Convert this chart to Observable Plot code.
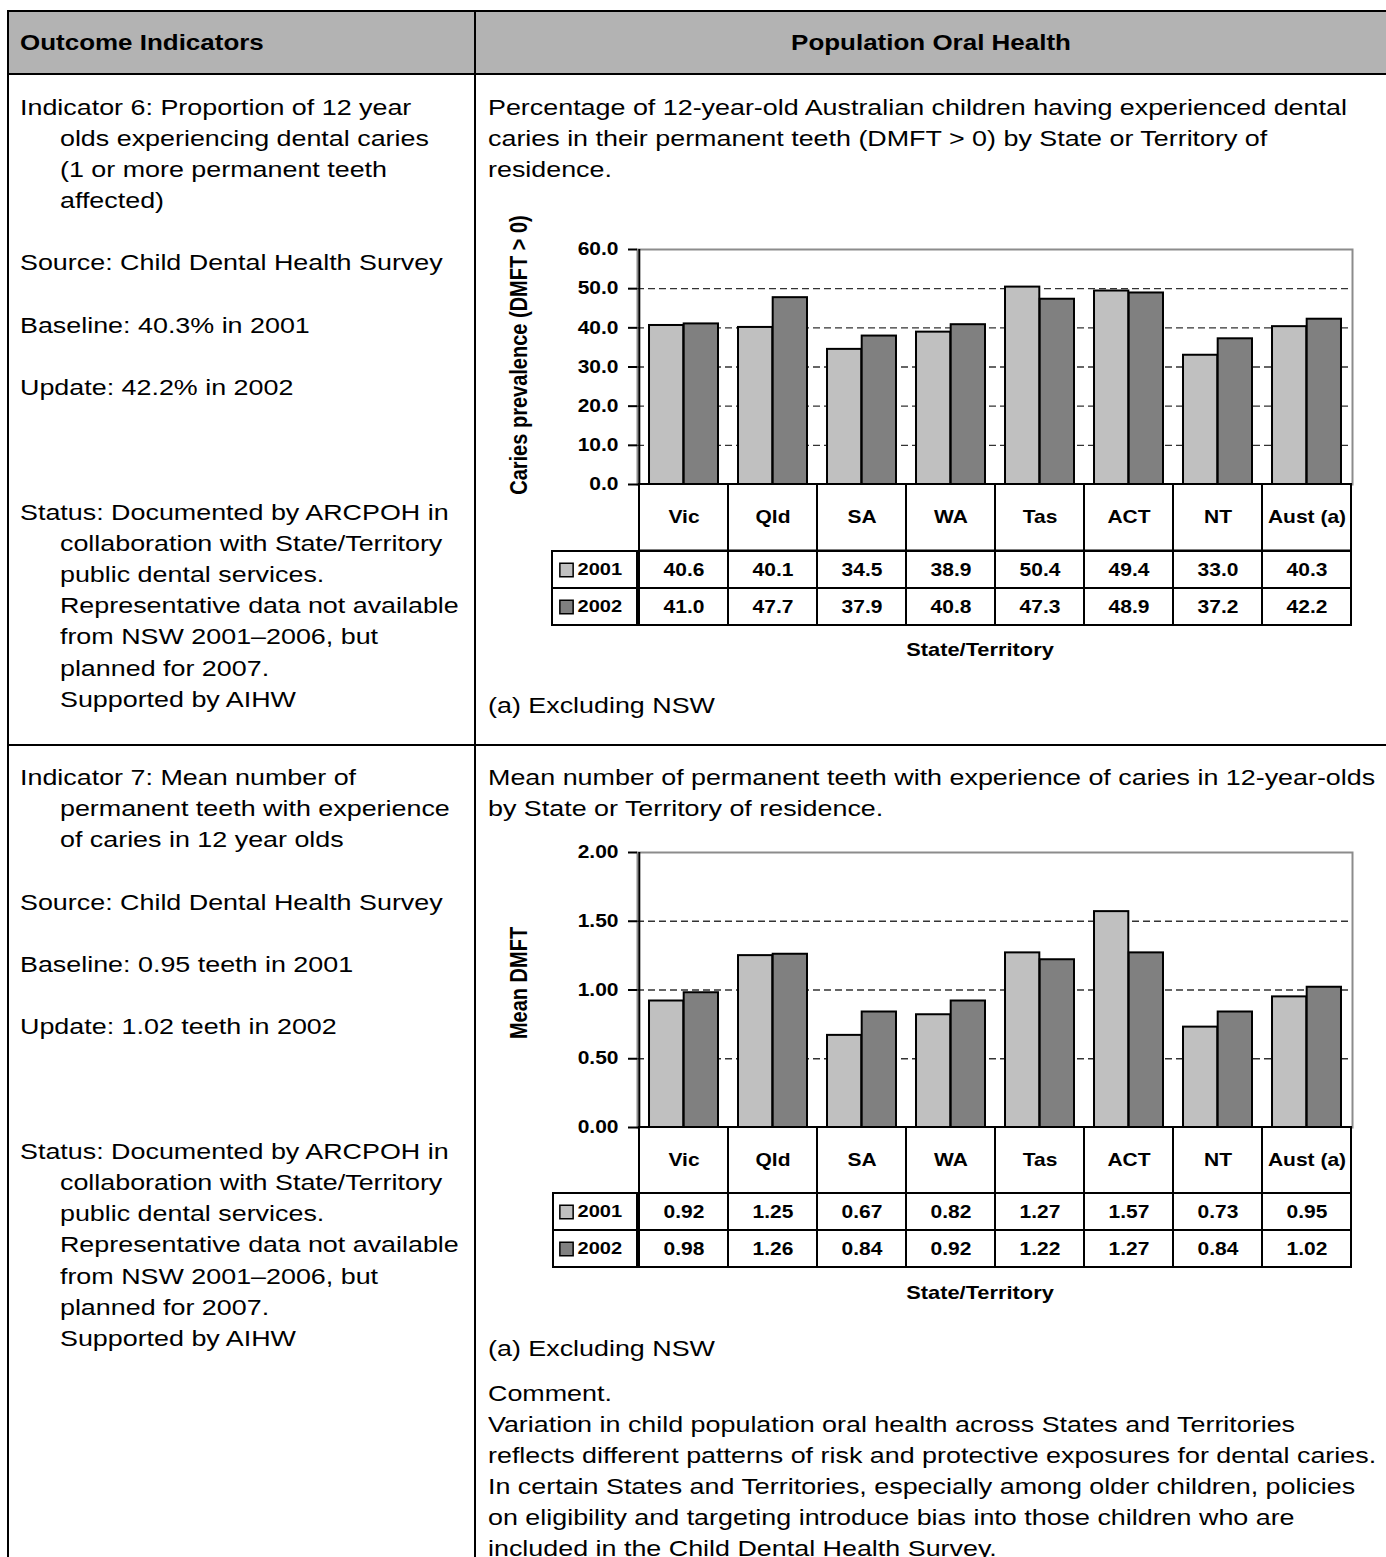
<!DOCTYPE html>
<html><head><meta charset="utf-8">
<script src="https://cdn.jsdelivr.net/npm/d3@7"></script>
<script src="https://cdn.jsdelivr.net/npm/@observablehq/plot@0.6"></script>
<style>
body{margin:0;background:#fff;}
#page{position:relative;width:1386px;height:1557px;overflow:hidden;font-family:"Liberation Sans",Arial,Helvetica,sans-serif;color:#000;background:#fff;}
.ln{position:absolute;background:#000;}
.tx{position:absolute;font-size:22.4px;line-height:31.15px;white-space:pre;transform:scaleX(1.2);transform-origin:0 0;}
.tx .in{padding-left:33.3px;}
.hd{position:absolute;font-size:22px;font-weight:bold;line-height:31.15px;white-space:pre;transform:scaleX(1.18);}
.plot{position:absolute;width:908px;}
.lab{position:absolute;font-weight:bold;white-space:pre;line-height:1;}
</style></head><body><div id="page"></div>
<script>
// ---------- data ----------
const states = ["Vic","Qld","SA","WA","Tas","ACT","NT","Aust (a)"];
const years = ["2001","2002"];
const prev2001 = [40.6,40.1,34.5,38.9,50.4,49.4,33.0,40.3];
const prev2002 = [41.0,47.7,37.9,40.8,47.3,48.9,37.2,42.2];
const dmft2001 = [0.92,1.25,0.67,0.82,1.27,1.57,0.73,0.95];
const dmft2002 = [0.98,1.26,0.84,0.92,1.22,1.27,0.84,1.02];
const prevTicks = [0,10,20,30,40,50,60];
const dmftTicks = [0,0.5,1,1.5,2];
const yearColors = ["#c0c0c0","#808080"];

const leftText1 = [
 ["Indicator 6: Proportion of 12 year",0],["olds experiencing dental caries",1],["(1 or more permanent teeth",1],["affected)",1],
 ["",0],["Source: Child Dental Health Survey",0],["",0],["Baseline: 40.3% in 2001",0],["",0],["Update: 42.2% in 2002",0],
 ["",0],["",0],["",0],["Status: Documented by ARCPOH in",0],["collaboration with State/Territory",1],["public dental services.",1],
 ["Representative data not available",1],["from NSW 2001\u20132006, but",1],["planned for 2007.",1],["Supported by AIHW",1]];
const leftText2 = [
 ["Indicator 7: Mean number of",0],["permanent teeth with experience",1],["of caries in 12 year olds",1],
 ["",0],["Source: Child Dental Health Survey",0],["",0],["Baseline: 0.95 teeth in 2001",0],["",0],["Update: 1.02 teeth in 2002",0],
 ["",0],["",0],["",0],["Status: Documented by ARCPOH in",0],["collaboration with State/Territory",1],["public dental services.",1],
 ["Representative data not available",1],["from NSW 2001\u20132006, but",1],["planned for 2007.",1],["Supported by AIHW",1]];
const rightText1 = ["Percentage of 12-year-old Australian children having experienced dental",
 "caries in their permanent teeth (DMFT > 0) by State or Territory of","residence."];
const rightText2 = ["Mean number of permanent teeth with experience of caries in 12-year-olds",
 "by State or Territory of residence."];
const commentText = ["Comment.","Variation in child population oral health across States and Territories",
 "reflects different patterns of risk and protective exposures for dental caries.",
 "In certain States and Territories, especially among older children, policies",
 "on eligibility and targeting introduce bias into those children who are",
 "included in the Child Dental Health Survey."];

// ---------- page frame ----------
const page = document.getElementById("page");
function box(cls, css, html){const d=document.createElement("div");d.className=cls;Object.assign(d.style,css);if(html!=null)d.innerHTML=html;page.appendChild(d);return d;}
box("", {position:"absolute",left:"9px",top:"12px",width:"1377px",height:"61px",background:"#b3b3b3"});
box("ln",{left:"7px",top:"10px",width:"1379px",height:"2px"});
box("ln",{left:"7px",top:"73px",width:"1379px",height:"2px"});
box("ln",{left:"7px",top:"744px",width:"1379px",height:"2px"});
box("ln",{left:"7px",top:"10px",width:"2px",height:"1547px"});
box("ln",{left:"474px",top:"10px",width:"2px",height:"1547px"});

const esc = s => s.replace(/&/g,"&amp;").replace(/</g,"&lt;").replace(/>/g,"&gt;");
function textBlock(x, top, lines){
  const html = lines.map(l => Array.isArray(l) ? `<div class="${l[1]?'in':''}">${esc(l[0])||'&nbsp;'}</div>` : `<div>${esc(l)||'&nbsp;'}</div>`).join("");
  box("tx",{left:x+"px",top:top+"px"},html);
}
box("hd",{left:"20px",top:"26.7px",transformOrigin:"0 0"},"Outcome Indicators");
box("hd",{left:"476px",top:"26.7px",width:"910px",textAlign:"center",transformOrigin:"50% 0"},"Population Oral Health");
textBlock(20, 91.7, leftText1);
textBlock(20, 762, leftText2);
textBlock(488, 91.7, rightText1);
textBlock(488, 689.7, ["(a) Excluding NSW"]);
textBlock(488, 762, rightText2);
textBlock(488, 1332.7, ["(a) Excluding NSW"]);
textBlock(488, 1377.7, commentText);

// ---------- charts ----------
const W = 908, ML = 159, MR = 34, PX = 478, K = 1.18;
const bw = (W - ML - MR) / states.length;
const FONT = '"Liberation Sans", Arial, Helvetica, sans-serif';
const plotStyle = {fontFamily: FONT, fontSize: "17.8px", fontWeight: "bold", color: "#000", background: "transparent", overflow: "visible"};

function stretch(svg){
  svg.querySelectorAll("text").forEach(t => {
    const L = t.getComputedTextLength();
    if (L > 0) { t.setAttribute("textLength", L * K); t.setAttribute("lengthAdjust", "spacingAndGlyphs"); }
  });
}
function place(svg, top){
  const d = document.createElement("div"); d.className = "plot";
  d.style.left = PX + "px"; d.style.top = top + "px";
  d.appendChild(svg); page.appendChild(d); stretch(svg);
}
function label(text, cx, cy, size, rotated){
  const d = box("lab", {left: cx+"px", top: cy+"px", fontSize: size+"px",
    transform: rotated ? `translate(-50%,-50%) rotate(-90deg) scaleY(${K})` : `translate(-50%,-50%) scaleX(${K})`}, null);
  d.textContent = text;
}
const tidy = (a, b) => states.flatMap((s, i) => [{state: s, year: years[0], value: a[i]}, {state: s, year: years[1], value: b[i]}]);

function drawChart(c){
  const mt = 20, mb = 4, h = c.frameBottom - c.frameTop;
  const svg = Plot.plot({
    width: W, height: h + mt + mb, marginLeft: ML, marginRight: MR, marginTop: mt, marginBottom: mb,
    style: plotStyle,
    x: {type: "band", domain: states, padding: 0, axis: null},
    y: {domain: [0, c.max]},
    color: {domain: years, range: yearColors},
    marks: [
      Plot.frame({stroke: "#8c8c8c", strokeWidth: 2}),
      Plot.ruleY(c.ticks.filter(t => t > 0 && t < c.max), {stroke: "#333", strokeWidth: 1.3, strokeDasharray: "7,4"}),
      Plot.barY(c.rows.filter(d => d.year === years[0]), {x: "state", y: "value", fill: "year", stroke: "#000", strokeWidth: 2, insetLeft: bw * 0.112, insetRight: bw * 0.5}),
      Plot.barY(c.rows.filter(d => d.year === years[1]), {x: "state", y: "value", fill: "year", stroke: "#000", strokeWidth: 2, insetLeft: bw * 0.5, insetRight: bw * 0.112}),
      Plot.ruleY([0], {stroke: "#000", strokeWidth: 2}),
      Plot.ruleX([states[0]], {x: d => d, dx: -bw / 2, stroke: "#000", strokeWidth: 2}),
      Plot.axisY(c.ticks, {tickFormat: c.fmt, tickSize: 9, tickPadding: 10, stroke: "#000", strokeWidth: 2, label: null})
    ]
  });
  place(svg, c.frameTop - mt);

  // header row with category names
  const hh = c.headerBottom - c.frameBottom;
  const hdr = Plot.plot({
    width: W, height: hh + 2, marginLeft: ML, marginRight: MR, marginTop: 1, marginBottom: 1,
    style: plotStyle,
    x: {type: "band", domain: states, padding: 0, axis: null},
    marks: [
      Plot.cell(states, {x: d => d, fill: "#fff", stroke: "#000", strokeWidth: 2}),
      Plot.text(states, {x: d => d, text: d => d})
    ]
  });
  place(hdr, c.frameBottom - 1);

  // value rows
  const vh = c.tableBottom - c.headerBottom;
  const vals = Plot.plot({
    width: W, height: vh + 2, marginLeft: ML, marginRight: MR, marginTop: 1, marginBottom: 1,
    style: plotStyle,
    x: {type: "band", domain: states, padding: 0, axis: null},
    y: {type: "band", domain: years, padding: 0, axis: null},
    color: {domain: years, range: yearColors},
    marks: [
      Plot.cell(years, {y: d => d, fill: "#fff", stroke: "#000", strokeWidth: 2, insetLeft: -(ML + PX - c.legendLeft), insetRight: W - ML - MR}),
      Plot.cell(c.rows, {x: "state", y: "year", fill: "#fff", stroke: "#000", strokeWidth: 2}),
      Plot.text(c.rows, {x: "state", y: "year", text: d => c.fmt(d.value)}),
      Plot.dot(years, {y: d => d, frameAnchor: "left", dx: -71, symbol: "square", r: 7.5, fill: d => d, stroke: "#000", strokeWidth: 1.5}),
      Plot.text(years, {y: d => d, frameAnchor: "left", textAnchor: "start", dx: -60, text: d => d, fontSize: 17})
    ]
  });
  place(vals, c.headerBottom - 1);

  label(c.yLabel, 519, c.yLabelY, 20, true);
  label("State/Territory", 980, c.xLabelY, 18.5, false);
}

drawChart({rows: tidy(prev2001, prev2002), ticks: prevTicks, max: 60, fmt: d => d.toFixed(1),
  frameTop: 249, frameBottom: 484, headerBottom: 550.5, tableBottom: 625, legendLeft: 552,
  yLabel: "Caries prevalence (DMFT > 0)", yLabelY: 355, xLabelY: 650});
drawChart({rows: tidy(dmft2001, dmft2002), ticks: dmftTicks, max: 2, fmt: d => d.toFixed(2),
  frameTop: 852, frameBottom: 1127, headerBottom: 1193, tableBottom: 1267, legendLeft: 553,
  yLabel: "Mean DMFT", yLabelY: 983, xLabelY: 1293});
</script></body></html>
